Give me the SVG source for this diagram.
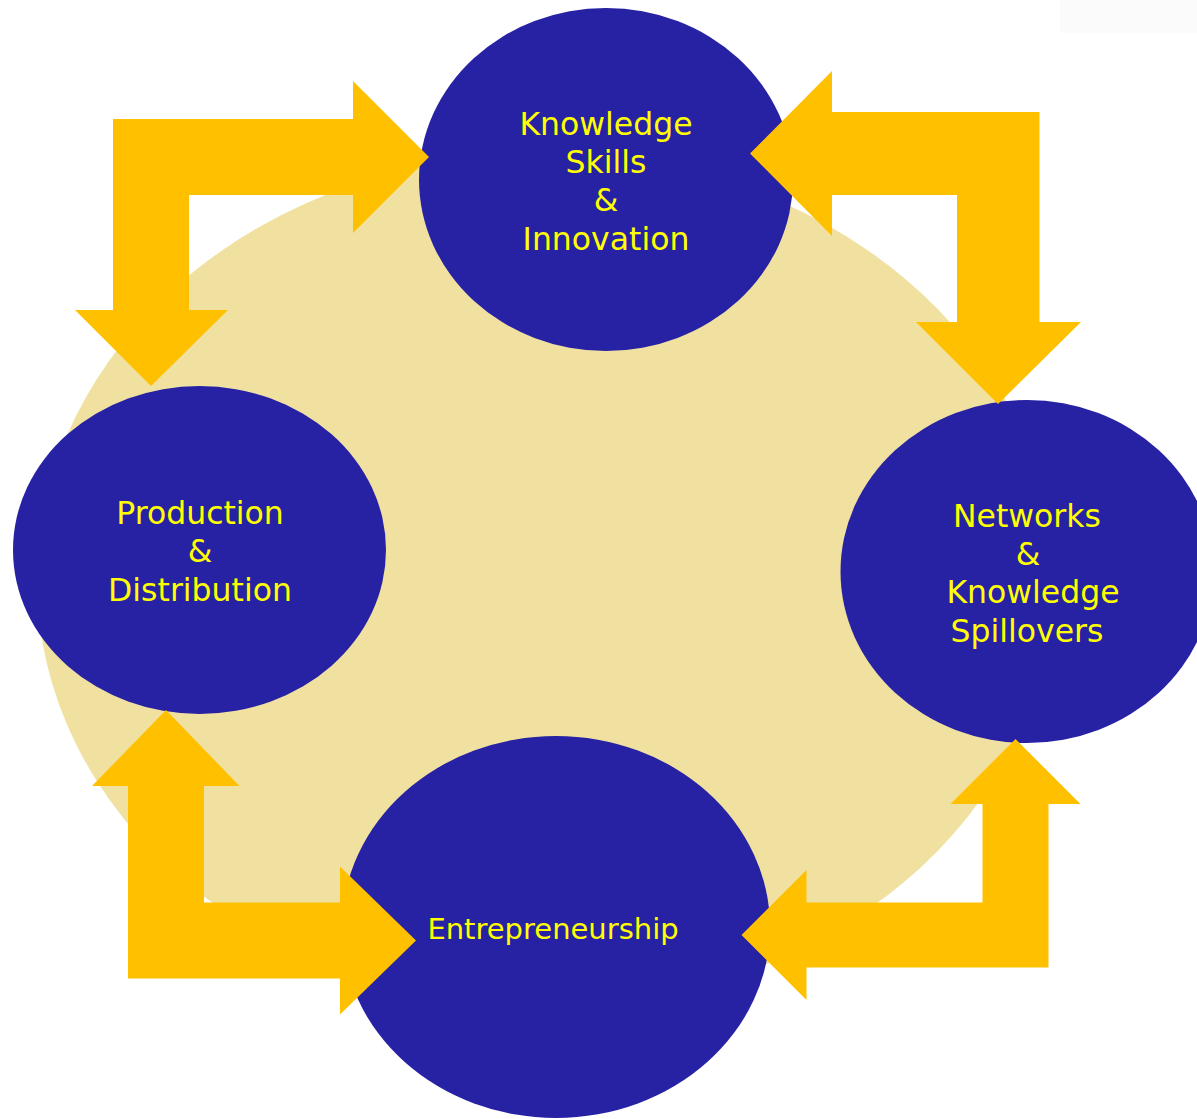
<svg xmlns="http://www.w3.org/2000/svg" width="1197" height="1119" viewBox="0 0 1197 1119">
  <style>
    .bg { fill: #F1E1A1; }
    .node { fill: #2721A3; }
    .lbl { fill: #FFFF00; font-family: "DejaVu Sans", Verdana, sans-serif; font-size: 31.5px; text-anchor: middle; }
    .lbl-s { font-size: 29px; }
    .arrow { fill: #FFC000; }
  </style>
  <rect x="0" y="0" width="1197" height="1119" fill="#FFFFFF"/>
  <rect x="1060" y="0" width="137" height="33" fill="#FBFBFB"/>
  <ellipse id="background" class="bg" cx="545" cy="580" rx="508" ry="427"/>

  <g id="node-ksi">
    <ellipse class="node" cx="606" cy="179.5" rx="187" ry="171.5"/>
    <text class="lbl" x="606" y="135">Knowledge</text>
    <text class="lbl" x="606" y="173">Skills</text>
    <text class="lbl" x="606" y="211">&amp;</text>
    <text class="lbl" x="606" y="250">Innovation</text>
  </g>
  <g id="node-production">
    <ellipse class="node" cx="199.5" cy="550" rx="186.5" ry="164"/>
    <text class="lbl" x="200" y="524">Production</text>
    <text class="lbl" x="200" y="562">&amp;</text>
    <text class="lbl" x="200" y="601">Distribution</text>
  </g>
  <g id="node-networks">
    <ellipse class="node" cx="1027" cy="571.5" rx="186.5" ry="171.5"/>
    <text class="lbl" x="1027" y="527">Networks</text>
    <text class="lbl" x="1028" y="565">&amp;</text>
    <text class="lbl" x="1033" y="603">Knowledge</text>
    <text class="lbl" x="1027" y="642">Spillovers</text>
  </g>
  <g id="node-entrepreneurship">
    <ellipse class="node" cx="556" cy="927" rx="214" ry="191"/>
    <text class="lbl lbl-s" x="553" y="939">Entrepreneurship</text>
  </g>

  <g id="connectors">
    <path class="arrow" d="M113,119 H353 V81 L429,157 L353,233 V195 H189 V310 H228 L151,386 L75,310 H113 Z"/>
    <path class="arrow" d="M750,153.5 L832,71 V112 H1039.5 V322 H1081 L998,404 L916,322 H957 V195 H832 V236 Z"/>
    <path class="arrow" d="M166,710 L239.5,786 H204 V902.5 H340 V866.5 L416,940.5 L340,1014.5 V978.5 H128 V786 H92 Z"/>
    <path class="arrow" d="M1015.5,739 L1080.5,804 H1048.5 V967.5 H806.5 V1000 L741.5,935 L806.5,870 V902.5 H982.5 V804 H950.5 Z"/>
  </g>
</svg>
